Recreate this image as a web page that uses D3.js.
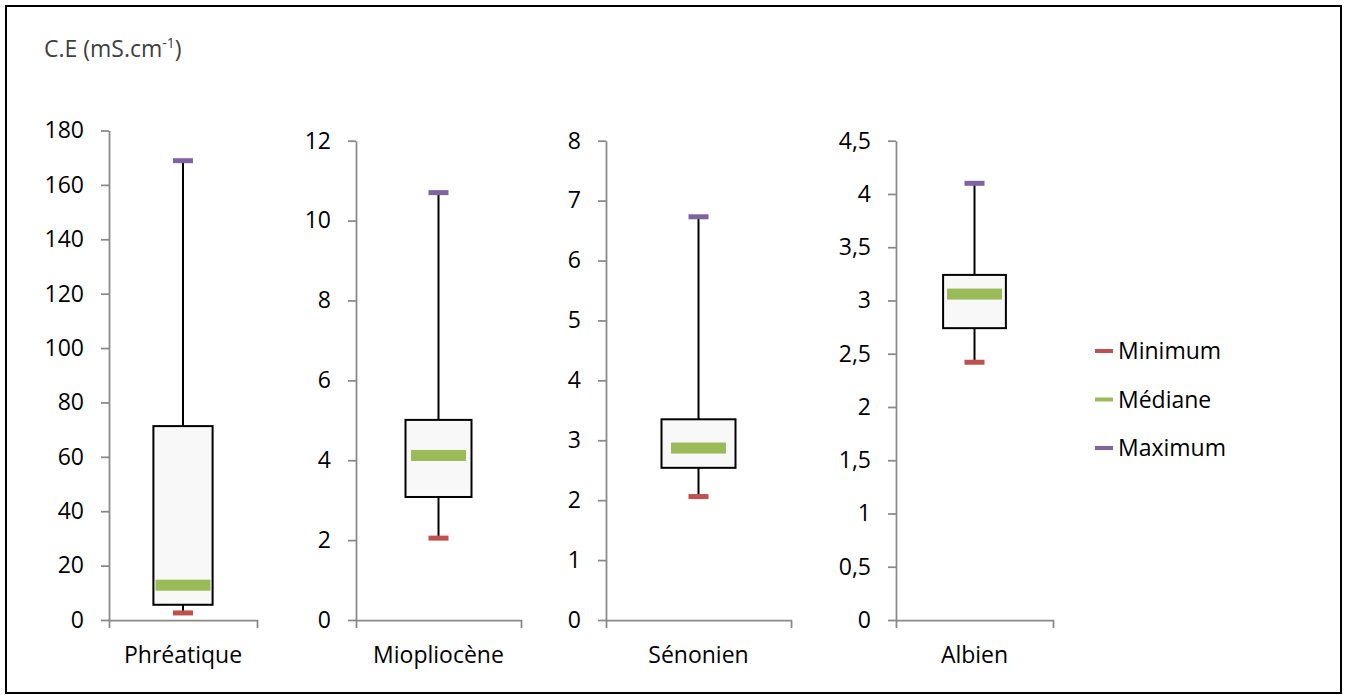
<!DOCTYPE html>
<html>
<head>
<meta charset="utf-8">
<script src="https://cdn.jsdelivr.net/npm/d3@7"></script>
<style>
  body { margin: 0; background: #fff; }
  text { font-family: "Open Sans", sans-serif; }
  .axis path, .axis line { stroke: #898989; stroke-width: 1.75; }
  .axis text { fill: #000; font-size: 23px; }
</style>
</head>
<body>
<svg width="1347" height="695"></svg>
<script>

  // DATA

  var categories = ["Phréatique", "Miopliocène", "Sénonien", "Albien"],
    minimum = [2.6, 2.05, 2.06, 2.42],
    q1 = [5.6, 3.08, 2.54, 2.74],
    median = [12.8, 4.12, 2.87, 3.06],
    q3 = [71.3, 5.01, 3.35, 3.24],
    maximum = [168.9, 10.7, 6.73, 4.10],
    yMax = [180, 12, 8, 4.5],
    yStep = [20, 2, 1, 0.5],
    seriesNames = ["Minimum", "Médiane", "Maximum"];

  var seriesColors = ["#C0504D", "#9BBB59", "#8064A2"];

  // LAYOUT

  var panelLeft = [109, 356, 606, 896],
    panelRight = [257, 521, 791, 1053],
    panelTop = [130.5, 140.7, 140.7, 140.7],
    baseY = 620;

  var svg = d3.select("svg");

  svg.append("rect")
    .attr("x", 6).attr("y", 6)
    .attr("width", 1335).attr("height", 687)
    .attr("fill", "#fff")
    .attr("stroke", "#000")
    .attr("stroke-width", 2);

  // title with superscript
  var title = svg.append("text")
    .attr("x", 44).attr("y", 57)
    .attr("font-size", 23)
    .attr("fill", "#404040");
  title.append("tspan").text("C.E (mS.cm");
  title.append("tspan").attr("font-size", 14).attr("dy", -9).text("-1");
  title.append("tspan").attr("dy", 9).text(")");

  var fmt = function (d) { return String(d).replace(".", ","); };

  categories.forEach(function (cat, i) {

    var x = d3.scaleBand()
      .domain([cat])
      .range([panelLeft[i], panelRight[i]])
      .paddingInner(0)
      .paddingOuter(0.75);

    var y = d3.scaleLinear()
      .domain([0, yMax[i]])
      .range([baseY, panelTop[i]]);

    var g = svg.append("g");

    g.append("g")
      .attr("class", "axis")
      .attr("transform", "translate(" + panelLeft[i] + ",0)")
      .call(d3.axisLeft(y)
        .tickValues(d3.range(0, yMax[i] + yStep[i] / 2, yStep[i]))
        .tickFormat(fmt)
        .tickSize(8)
        .tickSizeOuter(0)
        .tickPadding(17));

    g.append("g")
      .attr("class", "axis")
      .attr("transform", "translate(0," + baseY + ")")
      .call(d3.axisBottom(x)
        .tickSize(0)
        .tickSizeOuter(8)
        .tickPadding(27));

    var cx = x(cat) + x.bandwidth() / 2;

    // high-low line
    g.append("line")
      .attr("x1", cx).attr("x2", cx)
      .attr("y1", y(minimum[i])).attr("y2", y(maximum[i]))
      .attr("stroke", "#000")
      .attr("stroke-width", 2);

    // box
    g.append("rect")
      .attr("x", x(cat))
      .attr("y", y(q3[i]))
      .attr("width", x.bandwidth())
      .attr("height", y(q1[i]) - y(q3[i]))
      .attr("fill", "#f8f8f8")
      .attr("stroke", "#000")
      .attr("stroke-width", 2);

    // markers
    var marks = [
      { v: minimum[i], w: 20, h: 5, c: seriesColors[0] },
      { v: median[i], w: 55, h: 11, c: seriesColors[1] },
      { v: maximum[i], w: 20, h: 5, c: seriesColors[2] }
    ];

    g.selectAll(".mark")
      .data(marks)
      .enter().append("rect")
      .attr("class", "mark")
      .attr("x", function (d) { return cx - d.w / 2; })
      .attr("y", function (d) { return y(d.v) - d.h / 2; })
      .attr("width", function (d) { return d.w; })
      .attr("height", function (d) { return d.h; })
      .attr("fill", function (d) { return d.c; });
  });

  // LEGEND

  var legend = svg.selectAll(".legend")
    .data(seriesNames)
    .enter().append("g")
    .attr("class", "legend")
    .attr("transform", function (d, i) { return "translate(1095," + (351 + i * 48.5) + ")"; });

  legend.append("line")
    .attr("x1", 0).attr("x2", 18)
    .attr("stroke", function (d, i) { return seriesColors[i]; })
    .attr("stroke-width", 4);

  legend.append("text")
    .attr("x", 23)
    .attr("dy", "0.35em")
    .attr("font-size", 23)
    .attr("fill", "#000")
    .text(function (d) { return d; });

</script>
</body>
</html>
